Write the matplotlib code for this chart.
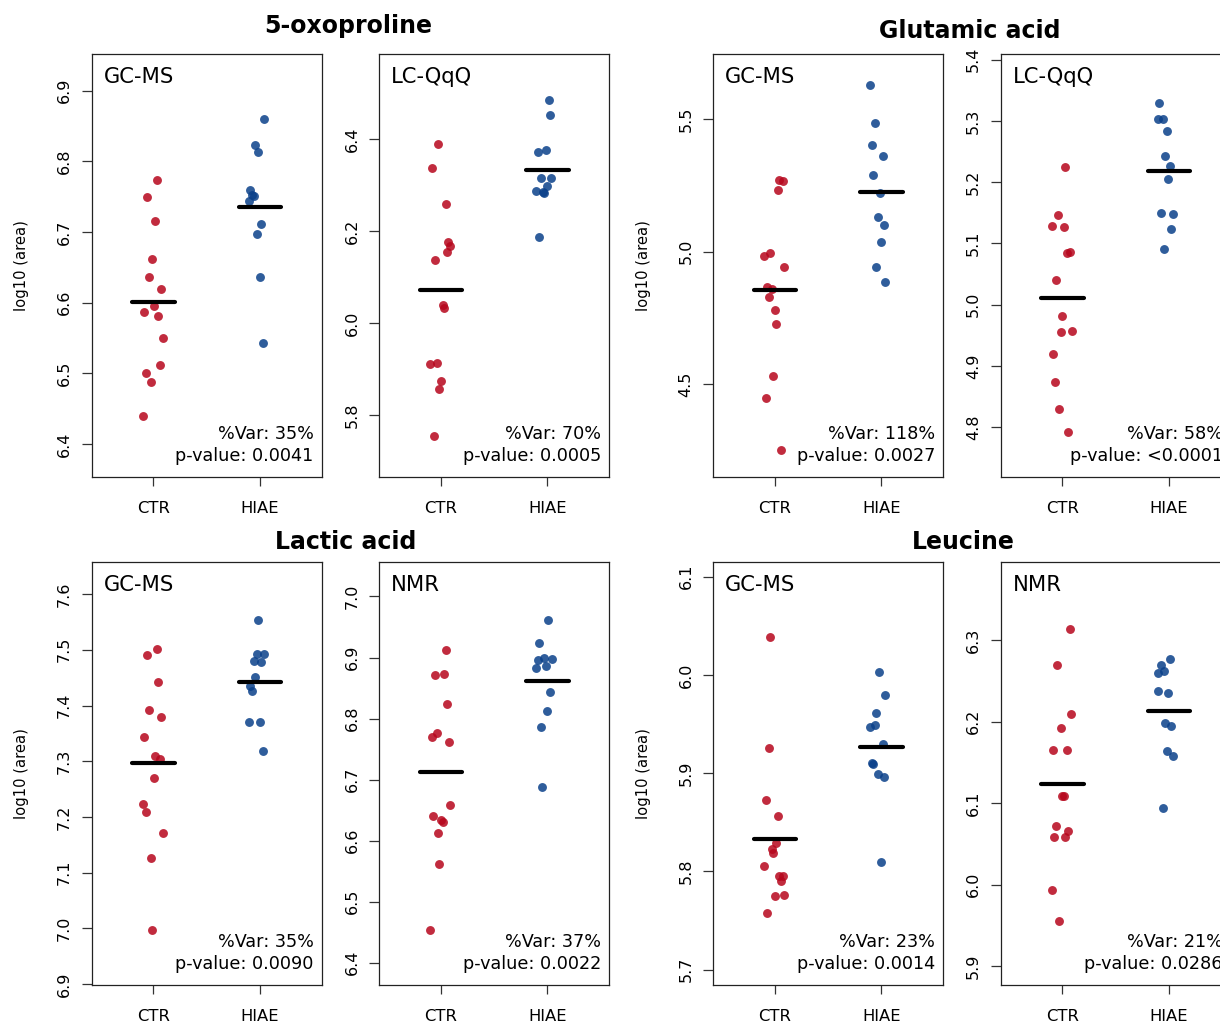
import numpy as np
import matplotlib
matplotlib.use("Agg")
import matplotlib.pyplot as plt

plt.rcParams['font.family'] = ['DejaVu Sans']

groups = ["CTR", "HIAE"]

# ---------------- data (log10 area) and horizontal jitter -------------
ox_gc_ctr = [6.774, 6.749, 6.716, 6.662, 6.637, 6.620, 6.596, 6.587, 6.581, 6.550, 6.512, 6.501, 6.488, 6.440]
ox_gc_ctr_jit = [0.031, -0.056, 0.016, -0.013, -0.041, 0.072, 0.003, -0.084, 0.047, 0.087, 0.059, -0.069, -0.025, -0.097]
ox_gc_hiae = [6.860, 6.823, 6.813, 6.760, 6.751, 6.752, 6.744, 6.712, 6.697, 6.636, 6.543]
ox_gc_hiae_jit = [0.041, -0.044, -0.016, -0.088, -0.059, -0.072, -0.100, 0.016, -0.028, 0.000, 0.028]

ox_lc_ctr = [6.389, 6.338, 6.258, 6.176, 6.168, 6.154, 6.137, 6.040, 6.033, 5.911, 5.913, 5.873, 5.857, 5.755]
ox_lc_ctr_jit = [-0.028, -0.084, 0.044, 0.069, 0.088, 0.056, -0.056, 0.016, 0.031, -0.100, -0.038, 0.003, -0.016, -0.069]
ox_lc_hiae = [6.486, 6.452, 6.373, 6.377, 6.316, 6.315, 6.299, 6.287, 6.286, 6.282, 6.187]
ox_lc_hiae_jit = [0.013, 0.025, -0.088, -0.016, -0.063, 0.038, 0.000, -0.103, -0.044, -0.028, -0.075]

glu_gc_ctr = [5.271, 5.266, 5.232, 4.985, 4.994, 4.942, 4.868, 4.861, 4.829, 4.780, 4.728, 4.530, 4.448, 4.252]
glu_gc_ctr_jit = [0.041, 0.072, 0.028, -0.103, -0.044, 0.084, -0.075, -0.031, -0.056, 0.000, 0.013, -0.016, -0.088, 0.056]
glu_gc_hiae = [5.628, 5.484, 5.403, 5.359, 5.290, 5.220, 5.130, 5.102, 5.035, 4.942, 4.887]
glu_gc_hiae_jit = [-0.103, -0.059, -0.088, 0.013, -0.075, -0.016, -0.031, 0.025, -0.003, -0.047, 0.038]

glu_lc_ctr = [5.2243, 5.1465, 5.1285, 5.1269, 5.0850, 5.0867, 5.0399, 4.9822, 4.9550, 4.9572, 4.9196, 4.8729, 4.8299, 4.7918]
glu_lc_ctr_jit = [0.028, -0.044, -0.100, 0.013, 0.041, 0.075, -0.056, 0.000, -0.016, 0.088, -0.084, -0.069, -0.028, 0.056]
glu_lc_hiae = [5.3298, 5.3032, 5.3032, 5.2841, 5.2433, 5.2265, 5.2047, 5.1503, 5.1476, 5.1242, 5.0910]
glu_lc_hiae_jit = [-0.088, -0.100, -0.059, -0.016, -0.031, 0.009, -0.003, -0.075, 0.041, 0.025, -0.044]

lac_gc_ctr = [7.5019, 7.4906, 7.4427, 7.3919, 7.3799, 7.3434, 7.3088, 7.3034, 7.2699, 7.2227, 7.2095, 7.1706, 7.1258, 6.9966]
lac_gc_ctr_jit = [0.031, -0.056, 0.047, -0.041, 0.075, -0.084, 0.016, 0.059, 0.003, -0.097, -0.069, 0.088, -0.025, -0.013]
lac_gc_hiae = [7.5540, 7.4918, 7.4918, 7.4804, 7.4774, 7.4511, 7.4355, 7.4260, 7.3710, 7.3710, 7.3189]
lac_gc_hiae_jit = [-0.016, -0.028, 0.044, -0.059, 0.016, -0.044, -0.088, -0.072, -0.100, 0.000, 0.028]

lac_nmr_ctr = [6.9125, 6.8715, 6.8736, 6.8239, 6.7703, 6.7768, 6.7615, 6.6576, 6.6406, 6.6346, 6.6308, 6.6122, 6.5613, 6.4530]
lac_nmr_ctr_jit = [0.044, -0.059, 0.028, 0.056, -0.088, -0.041, 0.072, 0.084, -0.075, 0.000, 0.016, -0.028, -0.016, -0.103]
lac_nmr_hiae = [6.9617, 6.9245, 6.8988, 6.8955, 6.8972, 6.8835, 6.8857, 6.8430, 6.8129, 6.7867, 6.6877]
lac_nmr_hiae_jit = [0.009, -0.075, -0.031, -0.091, 0.041, -0.103, -0.016, 0.025, -0.003, -0.059, -0.047]

leu_gc_ctr = [6.0385, 5.9258, 5.8728, 5.8568, 5.8290, 5.8229, 5.8191, 5.8056, 5.7954, 5.7954, 5.7899, 5.7747, 5.7764, 5.7577]
leu_gc_ctr_jit = [-0.044, -0.059, -0.088, 0.028, 0.013, -0.028, -0.016, -0.103, 0.041, 0.072, 0.056, 0.000, 0.084, -0.075]
leu_gc_hiae = [6.0029, 5.9798, 5.9611, 5.9492, 5.9465, 5.9302, 5.9108, 5.9098, 5.8993, 5.8966, 5.8096]
leu_gc_hiae_jit = [-0.019, 0.038, -0.047, -0.059, -0.103, 0.013, -0.091, -0.075, -0.031, 0.025, -0.003]

leu_nmr_ctr = [6.3135, 6.2693, 6.2096, 6.1916, 6.1646, 6.1654, 6.1086, 6.1086, 6.0718, 6.0656, 6.0587, 6.0587, 5.9932, 5.9556]
leu_nmr_ctr_jit = [0.069, -0.047, 0.084, -0.016, -0.084, 0.041, 0.000, 0.013, -0.059, 0.053, -0.075, 0.028, -0.100, -0.031]
leu_nmr_hiae = [6.2771, 6.2689, 6.2624, 6.2599, 6.2370, 6.2350, 6.1986, 6.1945, 6.1642, 6.1573, 6.0939]
leu_nmr_hiae_jit = [0.009, -0.075, -0.047, -0.097, -0.103, -0.006, -0.031, 0.025, -0.019, 0.041, -0.059]

titles = ["5-oxoproline", "Glutamic acid", "Lactic acid", "Leucine"]
platforms = ["GC-MS", "LC-QqQ", "GC-MS", "LC-QqQ", "GC-MS", "NMR", "GC-MS", "NMR"]
var_labels = ["35%", "70%", "118%", "58%", "35%", "37%", "23%", "21%"]
p_labels = ["0.0041", "0.0005", "0.0027", "<0.0001", "0.0090", "0.0022", "0.0014", "0.0286"]
ylims = [(6.353, 6.9515), (5.664, 6.585), (4.150, 5.744), (4.718, 5.409),
         (6.898, 7.657), (6.363, 7.056), (5.684, 6.1147), (5.8767, 6.3953)]
yticks = [[6.4, 6.5, 6.6, 6.7, 6.8, 6.9], [5.8, 6.0, 6.2, 6.4], [4.5, 5.0, 5.5],
          [4.8, 4.9, 5.0, 5.1, 5.2, 5.3, 5.4], [6.9, 7.0, 7.1, 7.2, 7.3, 7.4, 7.5, 7.6],
          [6.4, 6.5, 6.6, 6.7, 6.8, 6.9, 7.0], [5.7, 5.8, 5.9, 6.0, 6.1], [5.9, 6.0, 6.1, 6.2, 6.3]]

panels = [
    (ox_gc_ctr, ox_gc_ctr_jit, ox_gc_hiae, ox_gc_hiae_jit),
    (ox_lc_ctr, ox_lc_ctr_jit, ox_lc_hiae, ox_lc_hiae_jit),
    (glu_gc_ctr, glu_gc_ctr_jit, glu_gc_hiae, glu_gc_hiae_jit),
    (glu_lc_ctr, glu_lc_ctr_jit, glu_lc_hiae, glu_lc_hiae_jit),
    (lac_gc_ctr, lac_gc_ctr_jit, lac_gc_hiae, lac_gc_hiae_jit),
    (lac_nmr_ctr, lac_nmr_ctr_jit, lac_nmr_hiae, lac_nmr_hiae_jit),
    (leu_gc_ctr, leu_gc_ctr_jit, leu_gc_hiae, leu_gc_hiae_jit),
    (leu_nmr_ctr, leu_nmr_ctr_jit, leu_nmr_hiae, leu_nmr_hiae_jit),
]

# ---------------- figure ----------------
W, H = 1220, 1027
fig = plt.figure(figsize=(W / 100, H / 100), dpi=100)

lefts_px = [91.7, 379.3, 713.3, 1000.7]
tops_px = [54.3, 562.3]
aw_px, ah_px = 229.8, 423.0

red = '#B6061C'
blue = '#0A408A'

for i, (c_vals, c_jit, h_vals, h_jit) in enumerate(panels):
    row, col = divmod(i, 4)
    l = lefts_px[col] / W
    b = (H - tops_px[row] - ah_px) / H
    ax = fig.add_axes([l, b, aw_px / W, ah_px / H])

    for k, (vals, jit, colr) in enumerate([(c_vals, c_jit, red), (h_vals, h_jit, blue)]):
        x = (k + 1) + np.array(jit)
        ax.plot(x, vals, 'o', ms=6.4, color=colr, alpha=0.85, mec='none', zorder=2)
        m = np.mean(vals)
        ax.plot([k + 1 - 0.2, k + 1 + 0.2], [m, m], color='black', lw=3.0,
                solid_capstyle='round', zorder=3)

    ax.set_xlim(0.42, 2.58)
    ax.set_ylim(*ylims[i])
    ax.set_xticks([1, 2])
    ax.set_xticklabels(groups, fontsize=11.8)
    ax.set_yticks(yticks[i])
    ax.set_yticklabels([f"{t:.1f}" for t in yticks[i]], fontsize=11.5,
                       rotation=90, va='center')
    ax.tick_params(axis='x', length=6.7, width=0.9, pad=10.5, color='#333333')
    ax.tick_params(axis='y', length=7.2, width=0.9, pad=7, color='#333333')
    for s in ax.spines.values():
        s.set_linewidth(0.9)
        s.set_color('#222222')

    ax.text(12 / aw_px, 1 - 12.5 / ah_px, platforms[i], transform=ax.transAxes,
            fontsize=15.2, ha='left', va='top')
    ax.text(1 - 8 / aw_px, 38 / ah_px, f"%Var: {var_labels[i]}", transform=ax.transAxes,
            fontsize=12.7, ha='right', va='baseline')
    ax.text(1 - 8 / aw_px, 16.3 / ah_px, f"p-value: {p_labels[i]}", transform=ax.transAxes,
            fontsize=12.7, ha='right', va='baseline')

    if col in (0, 2):
        cy = (tops_px[row] + ah_px / 2)
        fig.text((lefts_px[col] - 70) / W, 1 - cy / H, "log10 (area)", rotation=90,
                 ha='center', va='center', fontsize=10.6)

title_pos = [(348, 33), (970, 38), (346, 549), (963, 549)]
for t, (tx, ty) in zip(titles, title_pos):
    fig.text(tx / W, 1 - ty / H, t, ha='center', va='baseline', fontsize=17,
             fontweight='bold')

fig.savefig("out.png", dpi=100)
